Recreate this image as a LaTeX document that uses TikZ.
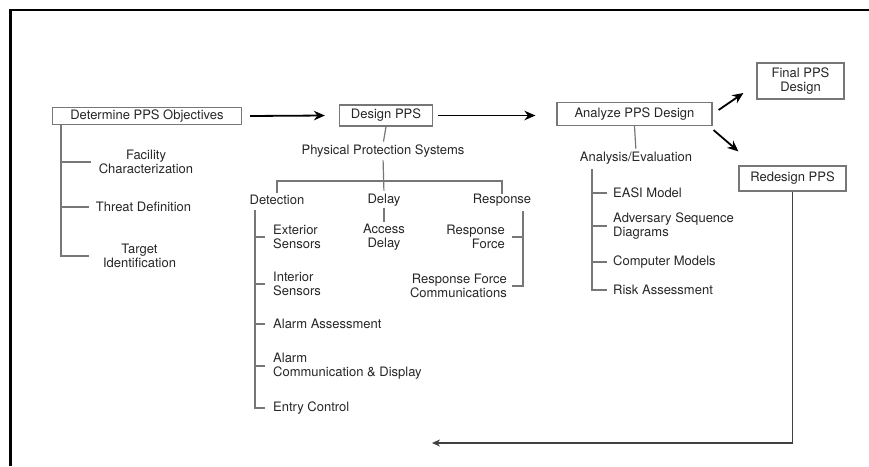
\documentclass[tikz,border=0pt]{standalone}
\usepackage{fontspec}
\setmainfont{TeX Gyre Heros}
\usetikzlibrary{positioning,arrows.meta,calc}
\definecolor{ink}{HTML}{262626}
\definecolor{rule}{HTML}{777777}
\tikzset{
  >={Stealth[length=11pt,width=9.5pt]},
  box/.style={draw=rule, line width=1.2pt, inner sep=0pt, align=center, text=ink},
  lbl/.style={inner sep=0pt, text=ink, align=left},
  tree/.style={draw=rule, line width=1.2pt},
  l/.style={->, line width=1.8pt, draw=black},
}

\begin{document}
\begin{tikzpicture}[x=1pt,y=-1pt,font=\fontsize{13}{14}\selectfont]
  \useasboundingbox (0,0) rectangle (869,466);
  % frame
  \draw[line width=2.5pt] (869,10) -- (10.5,10) -- (10.5,466);
  % main boxes
  \node[box,minimum width=189pt,minimum height=17pt] (obj) at (147,116) {Determine PPS Objectives};
  \node[box,minimum width=93pt,minimum height=21pt] (dps) at (386,115.5) {Design PPS};
  \node[box,minimum width=155pt,minimum height=23pt] (aps) at (634.5,114) {Analyze PPS Design};
  \node[box,minimum width=87pt,minimum height=36pt] (fin) at (800.5,81) {Final PPS\\Design};
  \node[box,minimum width=107pt,minimum height=25pt] (red) at (792.5,178.5) {Redesign PPS};
  \draw[l] ($(obj.east)+(8,0)$) -- ($(dps.west)+(-14,0)$);
  \draw[l] ($(dps.east)+(5,0)$) -- ($(aps.west|-dps.east)+(-21,0)$);
  \draw[l] ($(aps.east)+(6,-4)$) -- ($(fin.west)+(-13,12)$);
  \draw[l] ($(aps.south east)+(1,4)$) -- ($(red.north west)+(0,-14)$);
  \coordinate (back) at (432,443);
  \draw[l,draw=black!75,-{Stealth[length=8pt,width=7pt]}] (red.south) |- (back);
  % objectives
  \coordinate (objT) at (61,125);
  \node[lbl,align=center] (fac) at (146,162) {Facility\\Characterization};
  \node[lbl] (thr) at (143.5,207) {Threat Definition};
  \node[lbl,align=center] (tgt) at (139.5,256) {Target\\Identification};
  \draw[tree,shorten >=14pt] (objT) |- (tgt.west);
  \draw[tree,shorten >=8pt] (objT|-fac.west) -- (fac.west);
  \draw[tree,shorten >=7pt] (objT|-thr.west) -- (thr.west);
  % design
  \node[lbl] (pps) at (383,151) {Physical Protection Systems};
  \node[lbl] (det) at (277,200) {Detection};
  \node[lbl] (dly) at (384,200) {Delay};
  \node[lbl] (rsp) at (502,200) {Response};
  \coordinate (bar) at (384,181);
  \draw[tree,shorten >=3pt] (dps.south) -- (pps.north);
  \draw[tree,shorten <=3pt,shorten >=3pt] (pps.south) -- (dly.north);
  \draw[tree,shorten <=2pt] (det.north) |- (bar) -| (rsp.north);
  % detection
  \coordinate (detT) at (255,210);
  \node[lbl,anchor=west] (ext) at (273,237) {Exterior\\Sensors};
  \node[lbl,anchor=west] (int) at (273,284) {Interior\\Sensors};
  \node[lbl,anchor=west] (alm) at (273,324) {Alarm Assessment};
  \node[lbl,anchor=west] (acd) at (273,366) {Alarm\\Communication \& Display};
  \node[lbl,anchor=west] (ent) at (273,408) {Entry Control};
  \draw[tree,shorten >=8pt] (detT) |- (ent.west);
  \foreach \n in {ext,int,alm,acd}
    \draw[tree,shorten >=8pt] (detT|-\n.west) -- (\n.west);
  % delay
  \node[lbl,align=center] (acc) at (384,237) {Access\\Delay};
  \draw[tree,shorten <=2pt,shorten >=2pt] (dly.south) -- (acc.north);
  % response
  \coordinate (rspT) at (523,211);
  \node[lbl,align=right,anchor=east] (rf) at (505,237) {Response\\Force};
  \node[lbl,align=right,anchor=east] (rfc) at (507,286) {Response Force\\Communications};
  \draw[tree,shorten >=5pt] (rspT) |- (rfc.east);
  \draw[tree,shorten >=7pt] (rspT|-rf.east) -- (rf.east);
  % analysis
  \node[lbl] (ana) at (636,158) {Analysis/Evaluation};
  \draw[tree,shorten >=3pt] (aps.south) -- (ana.north);
  \coordinate (anaT) at (592,169);
  \node[lbl,anchor=west] (eas) at (613,193) {EASI Model};
  \node[lbl,anchor=west] (adv) at (613,226) {Adversary Sequence\\Diagrams};
  \node[lbl,anchor=west] (cmp) at (613,262) {Computer Models};
  \node[lbl,anchor=west] (rsk) at (613,290) {Risk Assessment};
  \draw[tree,shorten >=6pt] (anaT) |- (rsk.west);
  \foreach \n in {eas,adv,cmp}
    \draw[tree,shorten >=6pt] (anaT|-\n.west) -- (\n.west);
\end{tikzpicture}
\end{document}
